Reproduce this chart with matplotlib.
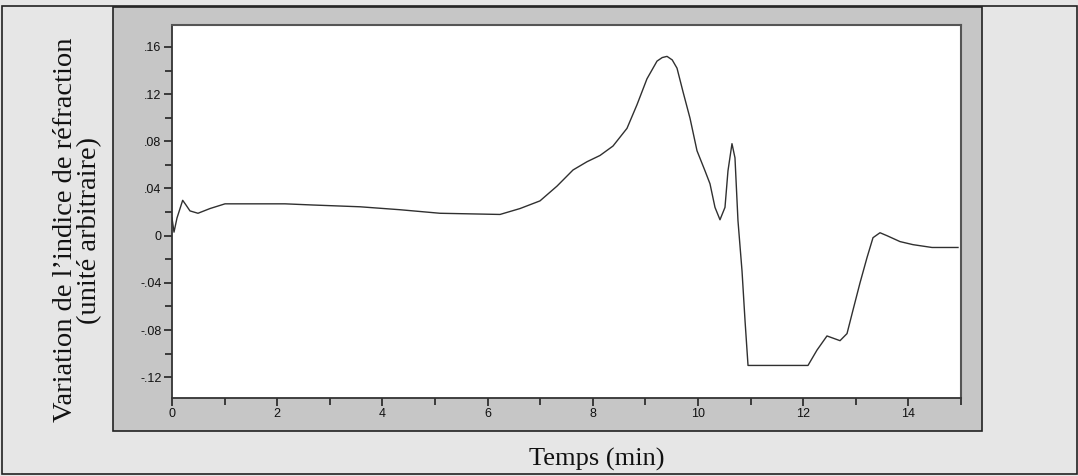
import matplotlib.pyplot as plt
from matplotlib.patches import Rectangle
from matplotlib.ticker import MultipleLocator, FuncFormatter

# temps (min) et variation de l'indice (unité arbitraire)
temps = [0.000, 0.038, 0.095, 0.203, 0.266, 0.342, 0.494, 0.722, 1.008, 2.148,
         2.681, 3.574, 4.335, 5.095, 6.236, 6.616, 6.996, 7.319, 7.624, 7.890,
         8.137, 8.384, 8.650, 8.840, 9.030, 9.221, 9.320, 9.411, 9.510, 9.601,
         9.715, 9.848, 9.981, 10.133, 10.228, 10.323, 10.418, 10.513, 10.570,
         10.646, 10.703, 10.760, 10.837, 10.894, 10.951, 12.091, 12.262, 12.452,
         12.700, 12.833, 12.947, 13.080, 13.213, 13.327, 13.460, 13.593, 13.840,
         14.087, 14.449, 14.943]
indice = [0.015, 0.003, 0.015, 0.030, 0.026, 0.021, 0.019, 0.023, 0.027, 0.027,
          0.026, 0.0245, 0.022, 0.019, 0.018, 0.023, 0.0295, 0.042, 0.0557, 0.0627,
          0.068, 0.076, 0.091, 0.111, 0.133, 0.148, 0.151, 0.152, 0.149, 0.142,
          0.122, 0.0996, 0.072, 0.055, 0.044, 0.024, 0.0135, 0.024, 0.055,
          0.078, 0.066, 0.0127, -0.030, -0.072, -0.110, -0.110, -0.097, -0.085,
          -0.089, -0.083, -0.063, -0.040, -0.0186, -0.0017, 0.0025, 0.0, -0.005,
          -0.0076, -0.010, -0.010]

W, H = 1078, 476
fig = plt.figure(figsize=(W / 100, H / 100), dpi=100)
fig.patch.set_facecolor('#e6e6e6')

# cadre extérieur
fig.add_artist(Rectangle((2 / W, 1 - 474 / H), 1075 / W, 468 / H,
                         transform=fig.transFigure, fill=False,
                         edgecolor='#222222', linewidth=1.2, zorder=-2))
# panneau gris
fig.add_artist(Rectangle((113 / W, 1 - 431 / H), 869 / W, 424 / H,
                         transform=fig.transFigure, facecolor='#c6c6c6',
                         edgecolor='#222222', linewidth=1.2, zorder=-1))

ax = fig.add_axes([172 / W, 1 - 398 / H, 789 / W, 373 / H])
ax.set_facecolor('white')
ax.plot(temps, indice, color='#303030', linewidth=1.0)

ax.set_xlim(0, 15)
ax.set_ylim(-0.1376, 0.1786)
ax.xaxis.set_major_locator(MultipleLocator(2))
ax.xaxis.set_minor_locator(MultipleLocator(1))
ax.yaxis.set_major_locator(MultipleLocator(0.04))
ax.yaxis.set_minor_locator(MultipleLocator(0.02))


def fmt_y(v, pos):
    if abs(v) < 1e-9:
        return '0'
    s = '%.2f' % v
    return s.replace('0.', '.')


ax.yaxis.set_major_formatter(FuncFormatter(fmt_y))
ax.xaxis.set_major_formatter(FuncFormatter(lambda v, p: '%d' % v))

for sp in ['top', 'right']:
    ax.spines[sp].set_color('#555555')
    ax.spines[sp].set_linewidth(1.5)
for sp in ['left', 'bottom']:
    ax.spines[sp].set_color('#333333')
    ax.spines[sp].set_linewidth(1.3)

ax.tick_params(which='both', direction='out', color='#222222', width=1.2)
ax.tick_params(which='major', length=6, labelsize=9, pad=1.5)
ax.tick_params(which='minor', length=5)
for lab in ax.get_xticklabels() + ax.get_yticklabels():
    lab.set_family(['Liberation Sans', 'DejaVu Sans'])
    lab.set_color('#111111')

fig.text(597 / W, 1 - 459 / H, 'Temps (min)', ha='center', va='center',
         fontsize=19, family='Liberation Serif', color='#111111')
fig.text(78 / W, 1 - 230 / H, 'Variation de l’indice de réfraction\n(unité arbitraire)',
         ha='center', va='center', rotation=90, fontsize=20.5,
         family='Liberation Serif', color='#111111', linespacing=0.95)

fig.savefig('out.png', dpi=100, facecolor=fig.get_facecolor())
